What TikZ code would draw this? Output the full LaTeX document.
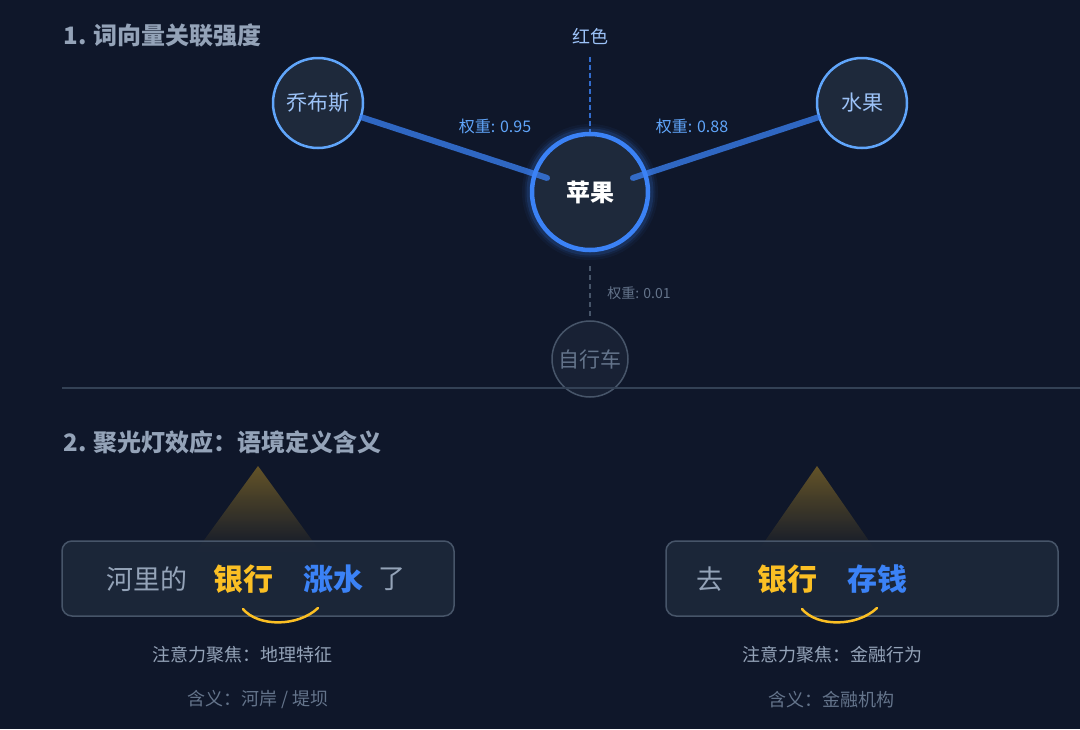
\documentclass[tikz,border=0pt]{standalone}
\usepackage{fontspec}
\setmainfont{Noto Sans CJK SC}
\usepackage{xcolor}
\usetikzlibrary{positioning,fadings}
\definecolor{bgnavy}{HTML}{0F172A}
\definecolor{slate8}{HTML}{1E293B}
\definecolor{slate7}{HTML}{334155}
\definecolor{slate6}{HTML}{475569}
\definecolor{slate5}{HTML}{64748B}
\definecolor{slate4}{HTML}{94A3B8}
\definecolor{blue5}{HTML}{3B82F6}
\definecolor{blue4}{HTML}{60A5FA}
\definecolor{blue3}{HTML}{9CC2F7}
\definecolor{amber4}{HTML}{FBBF24}
\newcommand{\fsz}[1]{\fontsize{#1}{#1}\selectfont}
\tikzfading[name=spotfade, top color=transparent!64, bottom color=transparent!100]

\begin{document}
\begin{tikzpicture}[
  x=1pt, y=-1pt,
  heading/.style={anchor=west, font=\fsz{24}\bfseries, text=slate4},
  word/.style={circle, draw=blue4, line width=2.5pt, fill=slate8, minimum size=90pt, inner sep=0pt, text=blue3, font=\fsz{21}},
  core/.style={circle, draw=blue5, line width=4.5pt, fill=slate8, minimum size=116pt, inner sep=0pt, text=white, font=\fsz{24}\bfseries},
  faint/.style={circle, draw=slate6, line width=1.5pt, fill=slate8, fill opacity=0.6, text opacity=1, minimum size=76pt, inner sep=0pt, text=slate5, font=\fsz{21}},
  weight/.style={font=\fsz{16}, text=blue4},
  link/.style={draw=blue5, line width=6pt, line cap=round, opacity=0.75},
  sentbox/.style={draw=slate6, line width=1.5pt, rounded corners=10pt, fill=slate8, fill opacity=0.85, minimum width=392pt, minimum height=75pt},
  plain/.style={font=\fsz{27}, text=slate4},
  focus/.style={font=\fsz{30}\bfseries, text=amber4},
  cue/.style={font=\fsz{30}\bfseries, text=blue5},
  note/.style={font=\fsz{18}, text=slate4},
  sense/.style={font=\fsz{18}, text=slate5},
  spot/.style={fill=amber4, path fading=spotfade},
  smile/.style={draw=amber4, line width=2.5pt, line cap=round}
]
\fill[bgnavy] (0,0) rectangle (1080,729);
\useasboundingbox (0,0) rectangle (1080,729);

\node[heading] (t1) at (60,35) {1. 词向量关联强度};
\foreach \w/\o in {18/0.05, 13/0.08, 9/0.14} \draw[blue5, line width=\w pt, opacity=\o] (590,192) circle (59pt);
\node[core] (apple) at (590,192) {苹果};
\node[word] (jobs) at (318,103) {乔布斯};
\node[word] (fruit) at (862,103) {水果};
\node[font=\fsz{18}, text=blue3] (red) at (590,36) {红色};
\node[faint] (bike) at (590,359) {自行车};
\draw[link, shorten >=-15pt] (jobs) -- (apple);
\draw[link, shorten >=-15pt] (fruit) -- (apple);
\draw[blue5, opacity=0.8, line width=2pt, dash pattern=on 5pt off 3pt, shorten <=9pt] (red) -- (apple);
\draw[slate6, line width=1.2pt, dash pattern=on 5pt off 4pt, shorten <=14pt] (apple) -- (bike);
\node[weight] (w1) at (495,126) {权重: 0.95};
\node[weight] (w2) at (692,126) {权重: 0.88};
\node[font=\fsz{14}, text=slate5] (w3) at (639,293) {权重: 0.01};

\draw[slate7, line width=1.5pt] (62,388) -- (1080,388);
\node[heading] (t2) at (60,442) {2. 聚光灯效应：语境定义含义};

\fill[spot] (258,466) -- (322,554) -- (194,554) -- cycle;
\fill[spot] (817,466) -- (878,554) -- (756,554) -- cycle;
\node[sentbox] (boxL) at (258,578.5) {};
\node[sentbox] (boxR) at (862,578.5) {};

\node[plain] (river) at (147,579) {河里的};
\node[focus] (bankL) at (243,579) {银行};
\node[cue] (flood) at (333,579) {涨水};
\node[plain] (le) at (392,579) {了};
\draw[smile] (243,609) .. controls (258,627) and (298,627) .. (318,608);

\node[plain] (go) at (710,579) {去};
\node[focus] (bankR) at (787,579) {银行};
\node[cue] (save) at (877,579) {存钱};
\draw[smile] (802,609) .. controls (817,627) and (857,627) .. (877,608);

\node[note] (attL) at (242,655) {注意力聚焦：地理特征};
\node[sense] (meanL) at (258,700) {含义：河岸 / 堤坝};
\node[note] (attR) at (832,655) {注意力聚焦：金融行为};
\node[sense] (meanR) at (831,700) {含义：金融机构};
\end{tikzpicture}
\end{document}
